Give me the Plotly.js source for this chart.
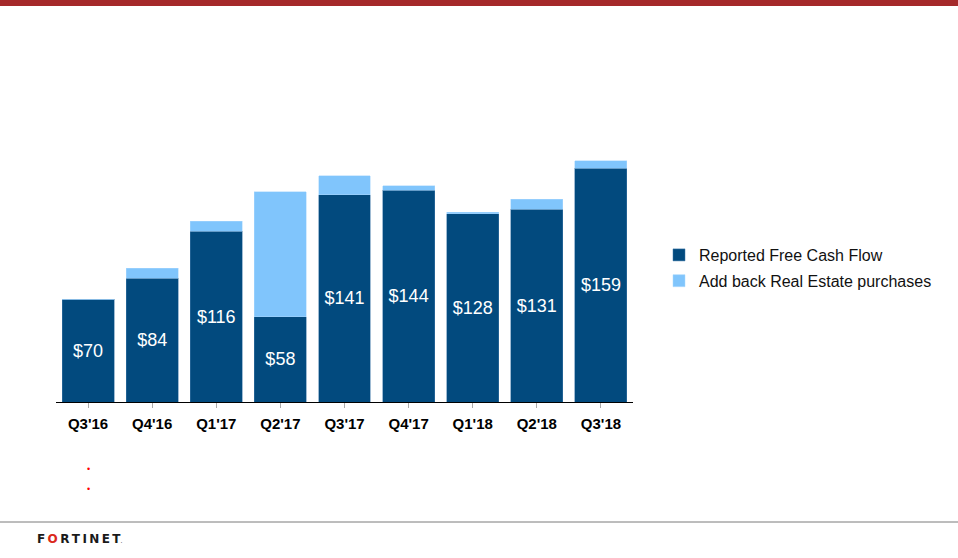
<!DOCTYPE html>
<html>
<head>
<meta charset="utf-8">
<script src="https://cdn.plot.ly/plotly-3.0.1.min.js"></script>
<style>html,body{margin:0;padding:0;background:#fff;}#chart{width:958px;height:558px;}</style>
</head>
<body>
<div id="chart"></div>
<script>
const quarters = ["Q3'16","Q4'16","Q1'17","Q2'17","Q3'17","Q4'17","Q1'18","Q2'18","Q3'18"];
const reportedFCF = [70, 84, 116, 58, 141, 144, 128, 131, 159];
const realEstateAddBack = [0, 7, 7, 85, 13, 3, 1, 7, 5];
const seriesNames = ["Reported Free Cash Flow", "Add back Real Estate purchases"];

const FONT = "Liberation Sans, Arial, sans-serif";

const traces = [
  {
    type: 'bar', x: quarters, y: reportedFCF, name: seriesNames[0],
    legendgroup: 'a',
    marker: {color: '#024A7E', line: {color: '#3f78a8', width: 0.5}},
    text: reportedFCF.map(v => '$' + v),
    textposition: 'inside', insidetextanchor: 'middle', constraintext: 'none',
    textfont: {family: FONT, size: 18, color: '#ffffff'},
    hoverinfo: 'none'
  },
  {
    type: 'bar', x: quarters, y: realEstateAddBack, name: seriesNames[1],
    legendgroup: 'b',
    marker: {color: '#80C5FC', line: {color: '#a9d8fd', width: 0.5}},
    hoverinfo: 'none'
  }
];

// plot area: x 56..633 px, y 152..402 px
const L = 56, W = 577, T = 152, H = 250;
const px = X => (X - L) / W;
const py = Y => (T + H - Y) / H;

const layout = {
  width: 958, height: 558,
  margin: {l: L, r: 958 - L - W, t: T, b: 558 - T - H, pad: 0},
  paper_bgcolor: '#ffffff', plot_bgcolor: '#ffffff',
  barmode: 'stack', bargap: 0.19,
  font: {family: FONT, color: '#000'},
  xaxis: {
    type: 'category', showline: true, linecolor: '#000', linewidth: 1,
    ticks: 'outside', ticklen: 5, tickcolor: '#aaaaaa', tickwidth: 1,
    ticklabelstandoff: 3,
    tickfont: {family: FONT, size: 15, color: '#000', weight: 'bold'},
    showgrid: false, zeroline: false, fixedrange: true
  },
  yaxis: {
    range: [0, 170], visible: false, showgrid: false, zeroline: false, fixedrange: true
  },
  showlegend: true,
  legend: {
    x: px(659), y: py(238), xanchor: 'left', yanchor: 'top',
    traceorder: 'grouped', tracegroupgap: 2,
    font: {family: FONT, size: 16, color: '#111'},
    bgcolor: 'rgba(0,0,0,0)', borderwidth: 0
  },
  shapes: [
    {type: 'rect', xref: 'paper', yref: 'paper', x0: px(0), x1: px(958), y0: py(6), y1: py(0),
     fillcolor: '#A5292A', line: {width: 0}, layer: 'above'},
    {type: 'line', xref: 'paper', yref: 'paper', x0: px(0), x1: px(958), y0: py(522), y1: py(522),
     line: {color: '#7a7a7a', width: 1}}
  ],
  annotations: [
    {xref: 'paper', yref: 'paper', x: px(88), y: py(469), text: '•', showarrow: false,
     font: {family: FONT, size: 9, color: '#ff0000'}, xanchor: 'center', yanchor: 'middle'},
    {xref: 'paper', yref: 'paper', x: px(88), y: py(489), text: '•', showarrow: false,
     font: {family: FONT, size: 9, color: '#ff0000'}, xanchor: 'center', yanchor: 'middle'},
    {xref: 'paper', yref: 'paper', x: px(35), y: py(539), xanchor: 'left', yanchor: 'middle',
     showarrow: false,
     text: '<b>F\u2009<span style="color:#DA291C">O</span>\u2009R\u2009T\u2009I\u2009N\u2009E\u2009T</b><span style="font-size:6px">.</span>',
     font: {family: 'DejaVu Sans, sans-serif', size: 12, color: '#1a1a1a'}}
  ]
};

Plotly.newPlot('chart', traces, layout, {displayModeBar: false, staticPlot: true});
</script>
</body>
</html>
